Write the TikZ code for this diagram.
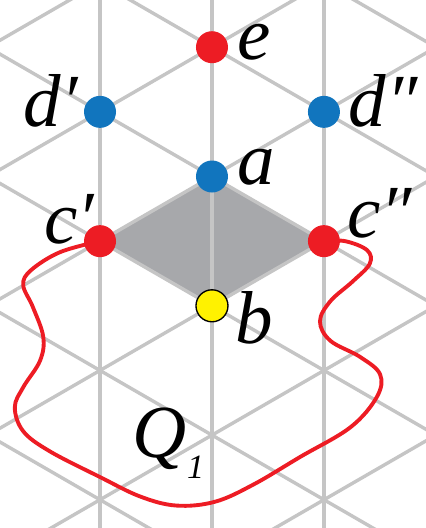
\documentclass[tikz,border=0pt]{standalone}
\usepackage{fontspec}
\setmainfont{Liberation Serif}
\usetikzlibrary{backgrounds,calc}

\definecolor{latgray}{RGB}{197,197,197}
\definecolor{rhgray}{RGB}{167,168,171}
\definecolor{ptred}{RGB}{237,28,36}
\definecolor{ptblue}{RGB}{17,117,190}
\definecolor{ptyellow}{RGB}{255,242,0}

\tikzset{
  site/.style={circle, minimum size=4.95mm, inner sep=0pt},
  redsite/.style={site, fill=ptred},
  bluesite/.style={site, fill=ptblue},
  yelsite/.style={site, fill=ptyellow, draw=black, line width=0.6pt},
  lab/.style={inner sep=0pt, font=\fontsize{33}{40}\selectfont\itshape},
  lattice/.style={latgray, line width=1.5pt},
  qpath/.style={ptred, line width=1.7pt}
}

\begin{document}
\begin{tikzpicture}
  \useasboundingbox (-3.279,-5.437) rectangle (3.310,2.730);
  % sites
  \node[redsite]  (e)  at (0,2) {};
  \node[bluesite] (dl) at (-1.732,1) {};
  \node[bluesite] (dr) at (1.732,1) {};
  \node[bluesite] (a)  at (0,0) {};
  \node[redsite]  (cl) at (-1.732,-1) {};
  \node[redsite]  (cr) at (1.732,-1) {};
  \node[yelsite]  (b)  at (0,-2) {};
  % labels
  \node[lab, anchor=base west] (le)  at ($(e)+(0.38,-0.19)$) {e};
  \node[lab, anchor=base east] (ldl) at ($(dl)+(-0.34,-0.23)$) {d′};
  \node[lab, anchor=base west] (ldr) at ($(dr)+(0.38,-0.23)$) {d″};
  \node[lab, anchor=base west] (la)  at ($(a)+(0.38,-0.12)$) {a};
  \node[lab, anchor=base east] (lcl) at ($(cl)+(-0.08,-0.03)$) {c′};
  \node[lab, anchor=base west] (lcr) at ($(cr)+(0.35,0.05)$) {c″};
  \node[lab, anchor=base west] (lb)  at ($(b)+(0.36,-0.59)$) {b};
  \node[lab, anchor=base west] (lq)  at (-1.23,-4.34)
    {Q\raisebox{-0.28em}{\fontsize{15}{15}\selectfont 1}};

  \begin{pgfonlayer}{background}
    \begin{scope}
      \clip (-3.279,-5.437) rectangle (3.310,2.730);
      \fill[rhgray] (a.center) -- (cr.center) -- (b.center) -- (cl.center) -- cycle;
      % triangular lattice
      \foreach \k in {-2,...,2}
        \draw[lattice] (\k*1.732,-6) -- (\k*1.732,3);
      \foreach \m in {-5,...,4} {
        \draw[lattice] (-4,2*\m-2.309) -- (4,2*\m+2.309);
        \draw[lattice] (-4,2*\m+2.309) -- (4,2*\m-2.309);
      }
      % the loop Q_1
      \draw[qpath] plot[smooth, tension=0.6] coordinates {
        (cl.center) (-2.35,-1.17) (-2.80,-1.45) (-2.92,-1.68) (-2.77,-2.02)
        (-2.61,-2.48) (-2.66,-2.85) (-2.92,-3.26) (-3.05,-3.57) (-2.92,-3.94)
        (-2.51,-4.25) (-1.73,-4.65) (-1.11,-4.95) (-0.55,-5.09) (0.05,-5.03)
        (0.65,-4.76) (1.36,-4.34) (2.14,-3.88) (2.55,-3.41) (2.60,-3.06)
        (2.29,-2.79) (1.83,-2.54) (1.67,-2.24) (1.83,-1.93) (2.18,-1.62)
        (2.44,-1.35) (2.40,-1.14) (2.06,-1.00) (cr.center)};
    \end{scope}
  \end{pgfonlayer}
\end{tikzpicture}
\end{document}
